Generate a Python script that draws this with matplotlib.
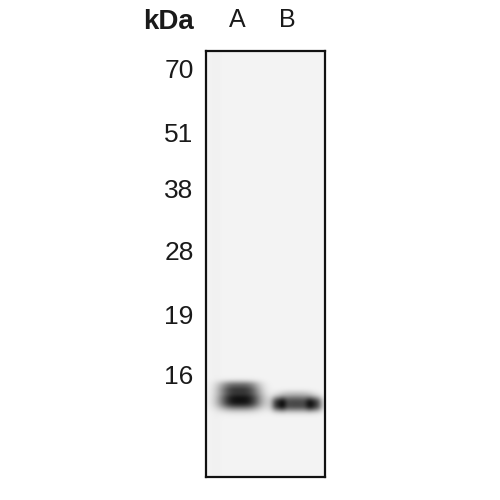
import numpy as np
import matplotlib.pyplot as plt

# lane labels and their centre on the membrane (pixel-like units inside the blot box)
lanes = ["A", "B"]
lane_x = [31, 81]

# molecular weight markers and their migration distance from the top of the blot
marker_kda = ["70", "51", "38", "28", "19", "16"]
marker_pos = [18, 81, 138, 199, 264, 324]

# band blobs: x centre, y centre, half width, half height, darkness
band_x = [34, 33, 90, 73, 108, 90]
band_y = [349, 336, 353, 353, 353, 344]
band_w = [21, 20, 22, 7, 8, 18]
band_h = [9.5, 6, 7.5, 7, 7, 5]
band_i = [1.0, 0.6, 0.75, 0.45, 0.45, 0.18]

W, H = 119, 426

xx, yy = np.meshgrid(np.arange(W) + 0.5, np.arange(H) + 0.5)
dark = np.zeros((H, W))
for x0, y0, w, h, a in zip(band_x, band_y, band_w, band_h, band_i):
    blob = np.exp(-(np.abs((xx - x0) / w) ** 3) - (np.abs((yy - y0) / h) ** 2.5))
    dark += a * blob
dark = np.clip(dark, 0, 1)

base = 0.955 - 0.012 * np.exp(-((xx - 10) / 6) ** 2)
img = base * (1 - dark) + 0.07 * dark

fig = plt.figure(figsize=(5, 5), dpi=100)
ax = fig.add_axes([206 / 500, 1 - 477 / 500, 119 / 500, 426 / 500])
ax.imshow(img, cmap="gray", vmin=0, vmax=1, extent=(0, W, H, 0),
          aspect="auto", interpolation="bicubic")
ax.set_xlim(0, W)
ax.set_ylim(H, 0)

ax.set_yticks(marker_pos)
ax.set_yticklabels(marker_kda, fontsize=19, family="Liberation Sans",
                   color="#1a1a1a")
ax.tick_params(axis="y", length=0, pad=9)
ax.set_xticks([])

for x, name in zip(lane_x, lanes):
    ax.text(x, -31, name, ha="center", va="center",
            fontsize=18, family="Liberation Sans", color="#1a1a1a")
ax.text(-38, -29, "kDa", ha="center", va="center", fontsize=20,
        fontweight="bold", family="Liberation Sans", color="#1a1a1a")

for s in ax.spines.values():
    s.set_linewidth(1.6)
    s.set_color("#111111")

fig.savefig("out.png", dpi=100, facecolor="white")
